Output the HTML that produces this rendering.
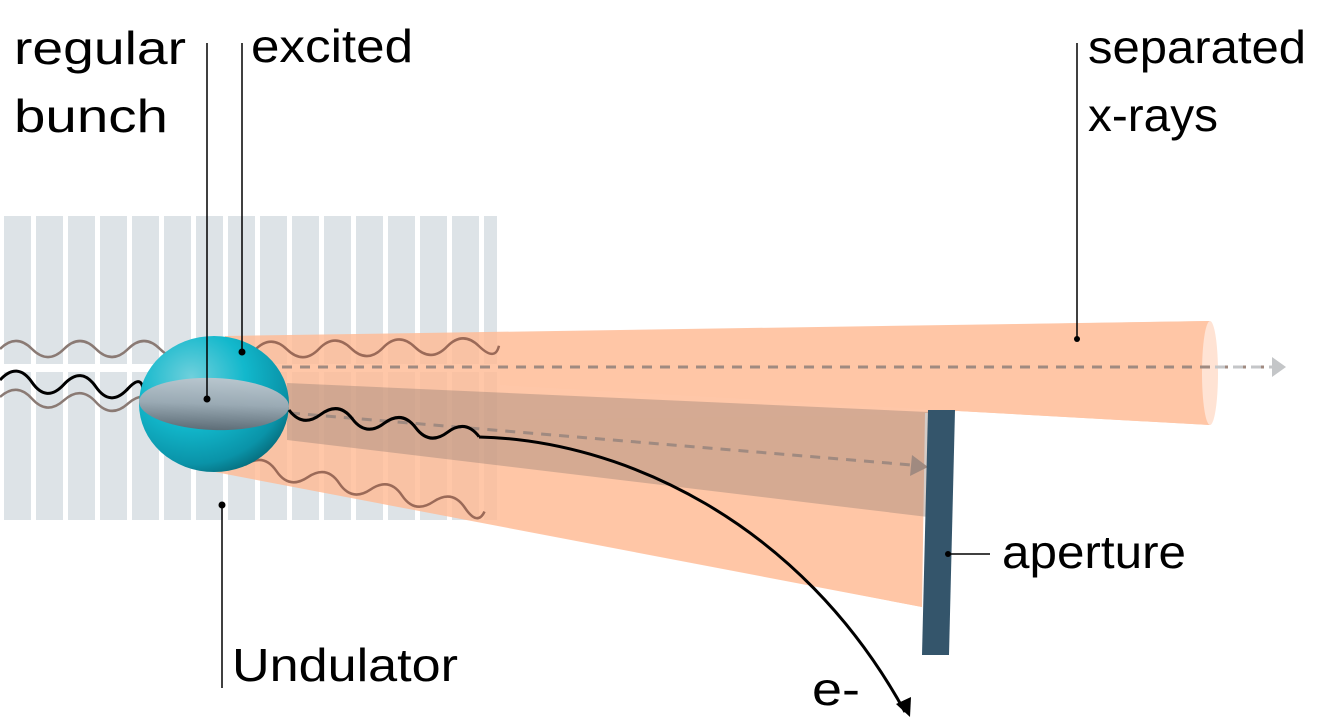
<!DOCTYPE html>
<html><head><meta charset="utf-8"><style>
html,body{margin:0;padding:0;background:#fff;}
svg{display:block;}
text{font-family:"Liberation Sans",sans-serif;font-size:46px;fill:#000;}
</style></head><body>
<svg width="1320" height="718" viewBox="0 0 1320 718" xmlns="http://www.w3.org/2000/svg">
<defs>
<radialGradient id="sph" cx="0.35" cy="0.3" r="0.8">
<stop offset="0" stop-color="#6fd0dc"/><stop offset="0.45" stop-color="#12b8cc"/><stop offset="0.8" stop-color="#0a93a8"/><stop offset="1" stop-color="#05606e"/>
</radialGradient>
<linearGradient id="eq" x1="0" y1="0" x2="0" y2="1">
<stop offset="0" stop-color="#b8c6ce"/><stop offset="0.5" stop-color="#9aaab4"/><stop offset="1" stop-color="#5d6d77"/>
</linearGradient>
</defs>
<g fill="#dde3e7">
<rect x="4" y="216" width="27" height="148"/><rect x="36" y="216" width="27" height="148"/><rect x="68" y="216" width="27" height="148"/><rect x="100" y="216" width="27" height="148"/><rect x="132" y="216" width="27" height="148"/><rect x="164" y="216" width="27" height="148"/><rect x="196" y="216" width="27" height="148"/><rect x="228" y="216" width="27" height="148"/><rect x="260" y="216" width="27" height="148"/><rect x="292" y="216" width="27" height="148"/><rect x="324" y="216" width="27" height="148"/><rect x="356" y="216" width="27" height="148"/><rect x="388" y="216" width="27" height="148"/><rect x="420" y="216" width="27" height="148"/><rect x="452" y="216" width="27" height="148"/><rect x="484" y="216" width="13" height="148"/>
<rect x="4" y="372" width="27" height="148"/><rect x="36" y="372" width="27" height="148"/><rect x="68" y="372" width="27" height="148"/><rect x="100" y="372" width="27" height="148"/><rect x="132" y="372" width="27" height="148"/><rect x="164" y="372" width="27" height="148"/><rect x="196" y="372" width="27" height="148"/><rect x="228" y="372" width="27" height="148"/><rect x="260" y="372" width="27" height="148"/><rect x="292" y="372" width="27" height="148"/><rect x="324" y="372" width="27" height="148"/><rect x="356" y="372" width="27" height="148"/><rect x="388" y="372" width="27" height="148"/><rect x="420" y="372" width="27" height="148"/><rect x="452" y="372" width="27" height="148"/><rect x="484" y="372" width="13" height="148"/>
</g>
<g opacity="0.82">
<polygon points="225,336 1210,321 1210,425 958,411 925,413 922,607 215,472" fill="#ffbb95"/>
</g>
<polygon points="1210,321 1210,425 958,411 500,385 500,333" fill="#ffc6a6"/>
<polygon points="922,415 922,607 500,525 500,420" fill="#ffc6a6"/>
<ellipse cx="1210" cy="373" rx="8" ry="52" fill="#ffe3d4"/>
<polygon points="287,383 928,412 928,517 287,440" fill="#9a8478" opacity="0.42"/>
<line x1="282" y1="367" x2="1272" y2="367" stroke="#a08a80" stroke-width="3" stroke-dasharray="10,8"/>
<line x1="1215" y1="367" x2="1272" y2="367" stroke="#c4c6c8" stroke-width="3" stroke-dasharray="10,8"/>
<polygon points="1272,357 1286,367 1272,377" fill="#c4c6c8"/>
<line x1="290" y1="413" x2="912" y2="465" stroke="#a08a80" stroke-width="3" stroke-dasharray="10,8"/>
<polygon points="912,455 928,467 910,476" fill="#a08a80"/>
<path d="M0 357 q16 -16 32 0 t32 0 t32 0 t32 0 t32 0 t32 0" fill="none" stroke="#8a7a74" stroke-width="2.5" transform="translate(0,-8)"/>
<path d="M0 397 q16 -16 32 0 t32 0 t32 0 t32 0 t32 0" fill="none" stroke="#8a7a74" stroke-width="2.5" transform="rotate(3 0 397)"/>
<path d="M0 380 q16 -20 32 0 t32 0 t32 0 t32 0 t16 10" fill="none" stroke="#000" stroke-width="3" transform="rotate(4 0 380)"/>
<path d="M255 350 q16 -16 32 0 t32 0 t32 0 t32 0 t32 0 t32 0 t32 0 t20 0" fill="none" stroke="#9b6a58" stroke-width="2.5" transform="rotate(-1 255 350)"/>
<path d="M245 465 q16 -16 32 0 t32 0 t32 0 t32 0 t32 0 t32 0 t32 0 t20 0" fill="none" stroke="#9b6a58" stroke-width="2.5" transform="rotate(11 245 465)"/>
<ellipse cx="214" cy="404" rx="75" ry="68" fill="url(#sph)"/>
<ellipse cx="214" cy="404" rx="75" ry="26" fill="url(#eq)" transform="rotate(2 214 404)"/>
<path d="M289 410 q16 16 32 0 t32 0 t32 0 t32 0 t32 0 t32 0" fill="none" stroke="#000" stroke-width="3" transform="rotate(8 289 410)"/>
<path d="M479 437 C620 440 800 520 905 712" fill="none" stroke="#000" stroke-width="3"/>
<polygon points="896,704 910,717 911,697" fill="#000"/>
<polygon points="928,410 955,410 949,655 922,655" fill="#34556b"/>
<g stroke="#000" stroke-width="1.5">
<line x1="207" y1="43" x2="207" y2="399"/>
<line x1="242" y1="43" x2="242" y2="352"/>
<line x1="222" y1="505" x2="222" y2="688"/>
<line x1="1077" y1="43" x2="1077" y2="339"/>
<line x1="948" y1="554" x2="990" y2="554"/>
</g>
<g fill="#000"><circle cx="207" cy="399" r="3.5"/><circle cx="242" cy="352" r="3.5"/><circle cx="222" cy="505" r="3.5"/><circle cx="1077" cy="339" r="3"/><circle cx="948" cy="554" r="3"/></g>
<text x="14" y="64" textLength="172" lengthAdjust="spacingAndGlyphs">regular</text>
<text x="14" y="132" textLength="154" lengthAdjust="spacingAndGlyphs">bunch</text>
<text x="251" y="62" textLength="162" lengthAdjust="spacingAndGlyphs">excited</text>
<text x="1088" y="63" textLength="218" lengthAdjust="spacingAndGlyphs">separated</text>
<text x="1088" y="131" textLength="130" lengthAdjust="spacingAndGlyphs">x-rays</text>
<text x="1002" y="568" textLength="184" lengthAdjust="spacingAndGlyphs">aperture</text>
<text x="232" y="681" textLength="226" lengthAdjust="spacingAndGlyphs">Undulator</text>
<text x="812" y="705" textLength="48" lengthAdjust="spacingAndGlyphs">e-</text>
</svg>
</body></html>
